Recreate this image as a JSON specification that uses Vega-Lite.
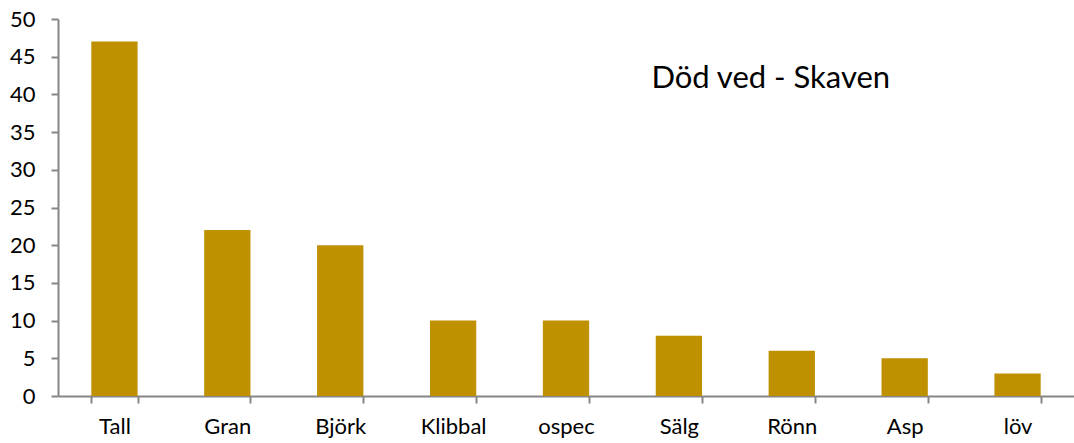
{
  "$schema": "https://vega.github.io/schema/vega-lite/v6.json",
  "width": 1016,
  "height": 377,
  "autosize": {"type": "none"},
  "padding": {"left": 58, "top": 19, "right": 0, "bottom": 47},
  "background": "white",
  "config": {
    "view": {"stroke": null},
    "font": "Lato",
    "axis": {"title": null, "labelFont": "Lato", "labelFontSize": 22, "labelColor": "#000000", "tickSize": 7, "tickColor": "#868686", "tickWidth": 2, "domainColor": "#868686", "domainWidth": 2, "grid": false, "labelOverlap": false},
    "axisX": {"labelAngle": 0, "tickBand": "extent", "labelPadding": 13},
    "axisY": {"labelPadding": 16}
  },
  "data": {"values": [
    {"art": "Tall", "antal": 47},
    {"art": "Gran", "antal": 22},
    {"art": "Björk", "antal": 20},
    {"art": "Klibbal", "antal": 10},
    {"art": "ospec", "antal": 10},
    {"art": "Sälg", "antal": 8},
    {"art": "Rönn", "antal": 6},
    {"art": "Asp", "antal": 5},
    {"art": "löv", "antal": 3}
  ]},
  "layer": [
    {
      "mark": {"type": "bar", "color": "#BF9000"},
      "encoding": {
        "x": {"field": "art", "type": "nominal", "sort": null,
          "scale": {"paddingInner": 0.59, "paddingOuter": 0.295},
          "axis": {"title": null}},
        "y": {"field": "antal", "type": "quantitative",
          "scale": {"domain": [0, 50], "nice": false},
          "axis": {"title": null, "values": [0,5,10,15,20,25,30,35,40,45,50], "labelOverlap": false}}
      }
    },
    {
      "data": {"values": [{"label": "Död ved - Skaven"}]},
      "mark": {"type": "text", "font": "Lato", "fontSize": 31, "color": "#000000", "dx": -21, "align": "center", "baseline": "middle"},
      "encoding": {
        "x": {"datum": "Rönn", "type": "nominal", "axis": {"title": null}},
        "y": {"datum": 42, "type": "quantitative", "axis": {"title": null, "values": [0,5,10,15,20,25,30,35,40,45,50], "labelOverlap": false}},
        "text": {"field": "label"}
      }
    }
  ]
}
